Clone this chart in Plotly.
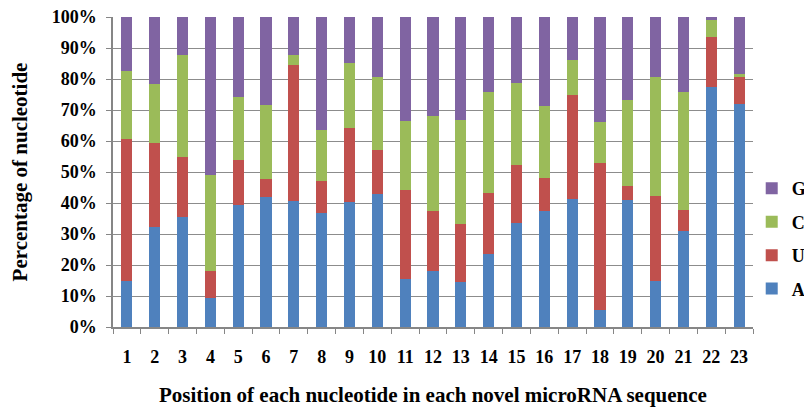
import plotly.graph_objects as go

positions = [str(i) for i in range(1, 24)]
A = [14.8, 32.2, 35.5, 9.3, 39.5, 41.8, 40.7, 36.9, 40.2, 42.9, 15.4, 18.0, 14.6, 23.6, 33.4, 37.4, 41.4, 5.6, 41.0, 14.8, 31.1, 77.3, 72.0]
U = [45.8, 27.2, 19.5, 8.7, 14.4, 5.8, 43.8, 10.3, 23.9, 14.3, 28.8, 19.5, 18.6, 19.7, 18.7, 10.6, 33.4, 47.2, 4.4, 27.6, 6.8, 16.2, 8.7]
C = [22.1, 18.9, 32.7, 30.9, 20.2, 24.1, 3.4, 16.5, 21.0, 23.4, 22.4, 30.5, 33.6, 32.5, 26.7, 23.4, 11.3, 13.4, 27.8, 38.2, 37.8, 5.4, 1.0]
G = [17.3, 21.7, 12.3, 51.1, 25.9, 28.3, 12.1, 36.3, 14.9, 19.4, 33.4, 32.0, 33.2, 24.2, 21.2, 28.6, 13.9, 33.8, 26.8, 19.4, 24.3, 1.1, 18.3]

series = [("A", A, "#4F81BD"), ("U", U, "#C0504D"), ("C", C, "#9BBB59"), ("G", G, "#8064A2")]

font_family = "Liberation Serif, Times New Roman, serif"

fig = go.Figure()
n = len(series)
for i, (name, vals, color) in enumerate(series):
    fig.add_trace(go.Bar(x=positions, y=vals, name="<b>" + name + "</b>", marker_color=color,
                         marker_line_width=0, legendgroup=name, legendrank=n - i))

# page body has an 8px default margin, so the figure is 8px smaller than the window
fig.update_layout(
    barmode="stack",
    barnorm="percent",
    bargap=0.6,
    width=804, height=400,
    margin=dict(l=105, r=59, t=9, b=81, autoexpand=False),
    plot_bgcolor="white", paper_bgcolor="white",
    font=dict(family=font_family, size=18, color="black"),
    showlegend=True,
    legend=dict(traceorder="grouped", x=0.998, xanchor="left", y=0.285, yanchor="middle",
                font=dict(family=font_family, size=18, color="black"),
                tracegroupgap=7, itemwidth=30, bgcolor="rgba(0,0,0,0)"),
    xaxis=dict(
        type="category", automargin=False,
        showline=True, linecolor="#868686", linewidth=1.5,
        ticks="outside", tickson="boundaries", ticklen=5, tickcolor="#868686",
        ticklabelstandoff=13,
        tickfont=dict(family=font_family, size=18, color="black", weight="bold"),
        title=dict(text="<b>Position of each nucleotide in each novel microRNA sequence</b>",
                   font=dict(family=font_family, size=21, color="black"), standoff=21),
        showgrid=False,
    ),
    yaxis=dict(
        range=[0, 100], dtick=10, ticksuffix="%", automargin=False,
        showline=True, linecolor="#868686", linewidth=1.5,
        ticks="outside", ticklen=5, tickcolor="#868686",
        ticklabelstandoff=6, ticklabeloverflow="allow",
        showgrid=True, gridcolor="#8C8C8C", gridwidth=1.2,
        tickfont=dict(family=font_family, size=18, color="black", weight="bold"),
        title=dict(text="<b>Percentage of nucleotide</b>",
                   font=dict(family=font_family, size=21, color="black"), standoff=24),
    ),
)

fig.write_html("out.html")
